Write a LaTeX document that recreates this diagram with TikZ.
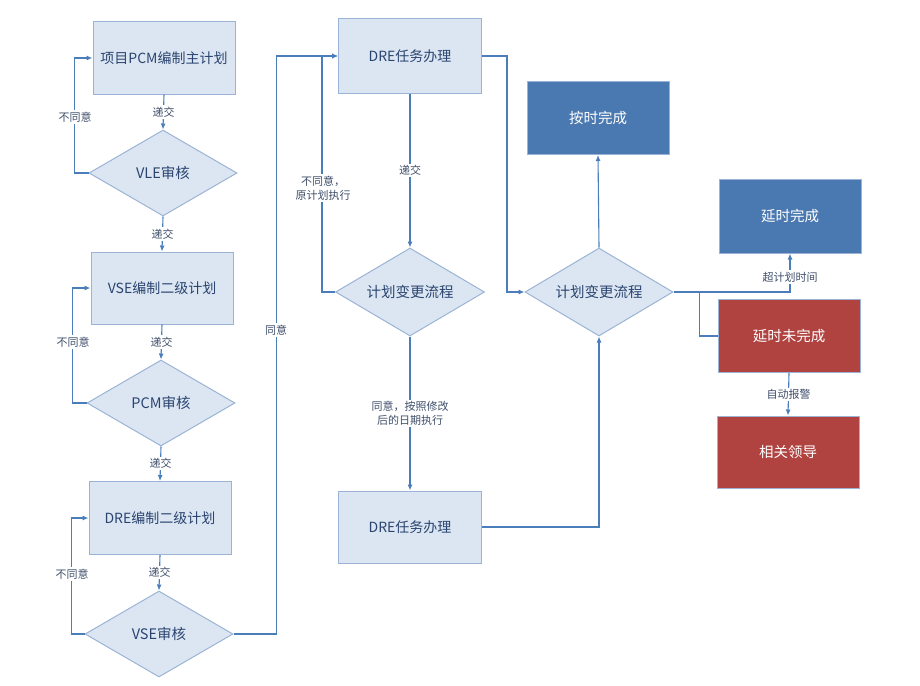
\documentclass[tikz,border=0pt]{standalone}
\usepackage{fontspec}
\setmainfont{Noto Sans CJK SC}
\usetikzlibrary{shapes.geometric,arrows.meta,calc}
\definecolor{lightfill}{HTML}{DCE6F2}
\definecolor{lightborder}{HTML}{9BB3D4}
\definecolor{linecol}{HTML}{4A7EBB}
\definecolor{darkblue}{HTML}{4A78B0}
\definecolor{darkred}{HTML}{B04240}
\definecolor{boxtext}{HTML}{2A4470}
\definecolor{labeltext}{HTML}{3F4F6A}
\begin{document}
\begin{tikzpicture}[x=1pt,y=-1pt,
  lbox/.style={rectangle,draw=lightborder,fill=lightfill,line width=1pt,minimum width=142pt,minimum height=72pt,inner sep=0pt,text=boxtext,font=\fontsize{14}{16}\selectfont},
  dbox/.style={rectangle,draw=lightborder,fill=darkblue,line width=1pt,minimum width=142pt,minimum height=73pt,inner sep=0pt,text=white,font=\fontsize{14.5}{16}\selectfont},
  rbox/.style={rectangle,draw=lightborder,fill=darkred,line width=1pt,minimum width=142pt,minimum height=73pt,inner sep=0pt,text=white,font=\fontsize{14.5}{16}\selectfont},
  dia/.style={diamond,draw=lightborder,fill=lightfill,line width=1pt,minimum width=148pt,minimum height=86pt,inner sep=0pt,aspect=1.72,text=boxtext,font=\fontsize{14.5}{16}\selectfont},
  conn/.style={draw=linecol,line width=1.1pt},
  arr/.style={conn,-{Latex[length=6pt,width=5pt]}},
  lab/.style={fill=white,inner sep=1.5pt,text=labeltext,font=\fontsize{11}{14}\selectfont,align=center}
]
\useasboundingbox (0,0) rectangle (920,685);
% left column
\node[lbox] (b1) at (164,58) {项目PCM编制主计划};
\node[dia] (d1) at (163,173) {VLE审核};
\node[lbox] (b2) at (162,288) {VSE编制二级计划};
\node[dia] (d2) at (161,403) {PCM审核};
\node[lbox,minimum height=73pt] (b3) at (160,518) {DRE编制二级计划};
\node[dia] (d3) at (159,634) {VSE审核};
% middle column
\node[lbox,minimum width=143pt,minimum height=74pt] (t1) at (410,56) {DRE任务办理};
\node[dia,minimum width=149pt,minimum height=88pt] (dm) at (410,292) {计划变更流程};
\node[lbox,minimum width=143pt] (t2) at (410,527) {DRE任务办理};
% right
\node[dia,minimum height=88pt] (dr) at (599,292) {计划变更流程};
\node[dbox] (ontime) at (598,118) {按时完成};
\node[dbox,minimum height=74pt] (late) at (790,216) {延时完成};
\node[rbox] (latenot) at (789,336) {延时未完成};
\node[rbox,minimum height=72pt] (leader) at (788,452) {相关领导};

% left connectors
\draw[arr] (b1.south) -- node[lab] (l1) {递交} (d1.north);
\draw[arr] (d1.west) -- ++(-14,0) |- (b1.west);
\node[lab] (n1) at (75,117) {不同意};
\draw[arr] (d1.south) -- node[lab] (l2) {递交} (b2.north);
\draw[arr] (b2.south) -- node[lab] (l3) {递交} (d2.north);
\draw[arr] (d2.west) -- ++(-14,0) |- (b2.west);
\node[lab] (n2) at (73,342) {不同意};
\draw[arr] (d2.south) -- node[lab] (l4) {递交} (b3.north);
\draw[arr] (b3.south) -- node[lab] (l5) {递交} (d3.north);
\draw[arr] (d3.west) -- ++(-13,0) |- (b3.west);
\node[lab] (n3) at (72,574) {不同意};
\draw[arr] (d3.east) -- ++(43,0) coordinate (c1) |- (t1.west);
\node[lab] (n4) at (276,330) {同意};

% middle connectors
\draw[arr] (t1.south) -- node[lab,pos=0.5] (l6) {递交} (dm.north);
\draw[arr] (dm.west) -- ++(-13,0) coordinate (c2) |- (t1.west);
\node[lab] (n5) at (323,188) {不同意，\\原计划执行};
\draw[arr] (dm.south) -- node[lab,pos=0.5] (n6) {同意，按照修改\\后的日期执行} (t2.north);
\draw[arr] (t2.east) -| (dr.south);
\draw[arr] (t1.east) -- ++(25,0) coordinate (c3) |- (dr.west);

% right connectors
\draw[arr] (dr.north) -- (ontime.south);
\draw[arr] (dr.east) -| (late.south);
\node[lab] (n7) at (790,277) {超计划时间};
\coordinate (br) at ($(dr.east)+(26,0)$);
\draw[conn] (br) |- (latenot.west);
\draw[arr] (latenot.south) -- node[lab] (n8) {自动报警} (leader.north);
\end{tikzpicture}
\end{document}
